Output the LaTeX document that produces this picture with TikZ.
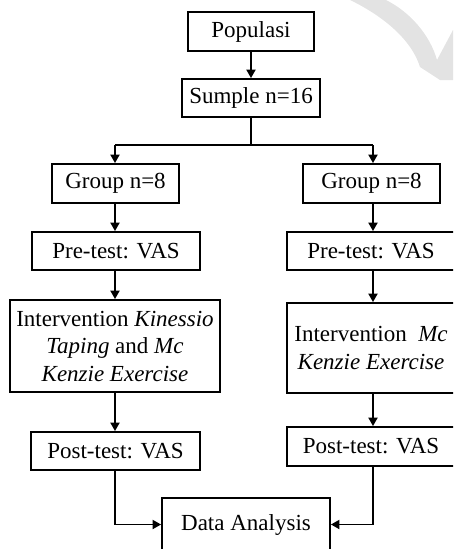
\documentclass[tikz,border=0pt]{standalone}
\usepackage{fontspec}
\setmainfont{Liberation Serif}
\usetikzlibrary{arrows.meta}
\newcommand\boxfont{\fontsize{23}{27.5}\selectfont}
\definecolor{wmgray}{gray}{0.89}
\tikzset{
  fbox/.style={draw, line width=1.8pt, inner sep=0pt, align=center, font=\boxfont},
  arr/.style={line width=1.8pt, -{Triangle[width=9pt,length=8.5pt]}},
  ln/.style={line width=1.8pt}
}
\begin{document}
\begin{tikzpicture}[x=1pt,y=-1pt]
\useasboundingbox (0,0) rectangle (453,549);
\clip (0,0) rectangle (453,549);
% watermark swoosh
\fill[wmgray] (350,0) .. controls (375,12) and (410,35) .. (420,67) -- (440,80) -- (453,80) -- (453,30) -- (437,60) .. controls (430,35) and (410,12) .. (386,0) -- cycle;
% nodes
\node[fbox, minimum width=126, minimum height=39] (pop) at (251,31.5) {Populasi};
\node[fbox, minimum width=138, minimum height=38] (sam) at (251,98) {Sumple n=16};
\node[fbox, minimum width=127, minimum height=39] (g1) at (115.5,183.5) {Group n=8};
\node[fbox, minimum width=137, minimum height=39] (g2) at (371.5,183.5) {Group n=8};
\node[fbox, minimum width=168, minimum height=38] (pre1) at (116,251) {Pre-test: VAS};
\node[fbox, minimum width=168, minimum height=38] (pre2) at (371,251) {Pre-test: VAS};
\node[fbox, minimum width=210, minimum height=92] (int1) at (115,346) {Intervention \textit{Kinessio}\\ \textit{Taping} and \textit{Mc}\\ \textit{Kenzie Exercise}};
\node[fbox, minimum width=168, minimum height=90] (int2) at (371,348) {Intervention\ \ \textit{Mc}\\ \textit{Kenzie Exercise}};
\node[fbox, minimum width=169, minimum height=38] (post1) at (115.5,451) {Post-test: VAS};
\node[fbox, minimum width=168, minimum height=39] (post2) at (371,446.5) {Post-test: VAS};
\node[fbox, minimum width=168, minimum height=53] (da) at (246,524.5) {Data Analysis};
% split coordinates
\coordinate (split) at (251,145);
\coordinate (sl) at (115,145);
\coordinate (sr) at (373,145);
% connectors
\draw[arr] (pop) -- (sam);
\draw[ln] (sam.south) -- (split);
\draw[ln] (sl) -- (sr);
\draw[arr] (sl) -- (sl |- g1.north);
\draw[arr] (sr) -- (sr |- g2.north);
\draw[arr] (sl |- g1.south) -- (sl |- pre1.north);
\draw[arr] (sr |- g2.south) -- (sr |- pre2.north);
\draw[arr] (sl |- pre1.south) -- (sl |- int1.north);
\draw[arr] (sr |- pre2.south) -- (sr |- int2.north);
\draw[arr] (sl |- int1.south) -- (sl |- post1.north);
\draw[arr] (sr |- int2.south) -- (sr |- post2.north);
\draw[arr] (sl |- post1.south) -- (sl |- da.west) -- (da.west);
\draw[arr] (sr |- post2.south) -- (sr |- da.east) -- (da.east);
\end{tikzpicture}
\end{document}
